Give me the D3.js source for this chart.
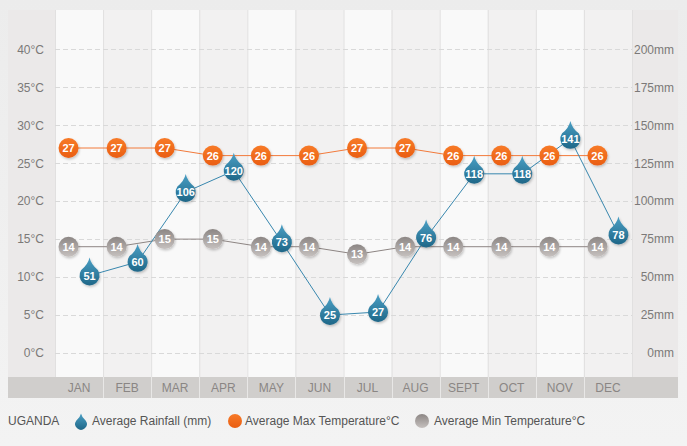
<!DOCTYPE html>
<html>
<head>
<meta charset="utf-8">
<script src="https://cdn.jsdelivr.net/npm/d3@7"></script>
<style>
  body { margin: 0; background: #f0f0f0; }
  svg { display: block; font-family: Arial, "Liberation Sans", sans-serif; }
</style>
</head>
<body>
<script>
// Uganda climate data
var months = ["JAN", "FEB", "MAR", "APR", "MAY", "JUN", "JUL", "AUG", "SEPT", "OCT", "NOV", "DEC"];
var maxTemp = [27, 27, 27, 26, 26, 26, 27, 27, 26, 26, 26, 26];
var minTemp = [14, 14, 15, 15, 14, 14, 13, 14, 14, 14, 14, 14];
var rainfall = [51, 60, 106, 120, 73, 25, 27, 76, 118, 118, 141, 78];
var tempTicks = [0, 5, 10, 15, 20, 25, 30, 35, 40];
var rainTicks = [0, 25, 50, 75, 100, 125, 150, 175, 200];
var country = "UGANDA";

var WIDTH = 687, HEIGHT = 446;
var PLOT = { left: 55, right: 632, top: 10, bottom: 377 };

var svg = d3.select("body").append("svg")
    .attr("width", WIDTH)
    .attr("height", HEIGHT);

var defs = svg.append("defs");

function grad(id, top, bottom) {
    var g = defs.append("linearGradient").attr("id", id)
        .attr("x1", 0).attr("y1", 0).attr("x2", 0).attr("y2", 1);
    g.append("stop").attr("offset", "0%").attr("stop-color", top);
    g.append("stop").attr("offset", "100%").attr("stop-color", bottom);
}
grad("gOrange", "#f77a28", "#ea5e12");
grad("gGray", "#8c8684", "#c6c1bf");
grad("gBlue", "#4a9fc4", "#1f6788");
grad("gBg", "#ececec", "#f3f3f3");

var shadow = defs.append("filter").attr("id", "shadow")
    .attr("x", "-30%").attr("y", "-30%").attr("width", "160%").attr("height", "160%");
shadow.append("feDropShadow").attr("dx", 1).attr("dy", 1.5)
    .attr("stdDeviation", 1).attr("flood-color", "#000").attr("flood-opacity", 0.22);

svg.append("rect").attr("width", WIDTH).attr("height", HEIGHT).attr("fill", "url(#gBg)");

// Scales
var x = d3.scaleBand().domain(months).range([PLOT.left, PLOT.right]);
var yT = d3.scaleLinear().domain([0, 40]).range([353, 49.3]);
var yR = d3.scaleLinear().domain([0, 200]).range([353, 49.3]);

// Side panels
svg.append("rect").attr("x", 8).attr("y", PLOT.top)
    .attr("width", PLOT.left - 8).attr("height", PLOT.bottom - PLOT.top).attr("fill", "#ebe9e9");
svg.append("rect").attr("x", PLOT.right).attr("y", PLOT.top)
    .attr("width", 678 - PLOT.right).attr("height", PLOT.bottom - PLOT.top).attr("fill", "#ebe9e9");

// Month columns
svg.selectAll(".col").data(months).enter().append("rect")
    .attr("class", "col")
    .attr("x", function(d) { return x(d); })
    .attr("y", PLOT.top)
    .attr("width", x.bandwidth())
    .attr("height", PLOT.bottom - PLOT.top)
    .attr("fill", function(d, i) { return i % 2 ? "#f2f1f1" : "#f9f9f9"; });

svg.selectAll(".colline").data(months.concat(["END"])).enter().append("line")
    .attr("x1", function(d, i) { return PLOT.left + i * x.bandwidth() + 0.5; })
    .attr("x2", function(d, i) { return PLOT.left + i * x.bandwidth() + 0.5; })
    .attr("y1", PLOT.top).attr("y2", PLOT.bottom)
    .attr("stroke", "#e1e0e0");

// Grid lines
svg.selectAll(".grid").data(tempTicks).enter().append("line")
    .attr("x1", PLOT.left).attr("x2", PLOT.right)
    .attr("y1", function(d) { return Math.round(yT(d)) + 0.5; })
    .attr("y2", function(d) { return Math.round(yT(d)) + 0.5; })
    .attr("stroke", "#d9d9d9")
    .attr("stroke-dasharray", "5,3");

// Axes
var leftAxis = svg.append("g")
    .attr("transform", "translate(47,0)")
    .call(d3.axisLeft(yT).tickValues(tempTicks).tickSize(0).tickPadding(3)
        .tickFormat(function(d) { return d + "°C"; }));
var rightAxis = svg.append("g")
    .attr("transform", "translate(677,0)")
    .call(d3.axisLeft(yR).tickValues(rainTicks).tickSize(0).tickPadding(3)
        .tickFormat(function(d) { return d + "mm"; }));
[leftAxis, rightAxis].forEach(function(a) {
    a.select(".domain").remove();
    a.selectAll("text").attr("fill", "#7b7978").attr("font-size", "12px")
        .attr("font-family", "Arial, 'Liberation Sans', sans-serif");
});

// Month bar
svg.append("rect").attr("x", 8).attr("y", 377).attr("width", 670).attr("height", 21)
    .attr("fill", "#d0cecc");
svg.selectAll(".msep").data(months.slice(1)).enter().append("line")
    .attr("x1", function(d) { return Math.round(x(d)) + 0.5; })
    .attr("x2", function(d) { return Math.round(x(d)) + 0.5; })
    .attr("y1", 377).attr("y2", 398)
    .attr("stroke", "#e8e7e6");
svg.selectAll(".mlabel").data(months).enter().append("text")
    .attr("x", function(d) { return x(d) + x.bandwidth() / 2; })
    .attr("y", 388)
    .attr("dy", "0.35em")
    .attr("text-anchor", "middle")
    .attr("font-size", "12px")
    .attr("fill", "#8a8684")
    .text(function(d) { return d; });

// Marker positions
var OFF = 10.5;
function cx(i) { return x(months[i]) + x.bandwidth() / 2 - OFF; }
function rx(i) { return x(months[i]) + x.bandwidth() / 2 + OFF; }

var line = d3.line();

svg.append("path")
    .attr("d", line(maxTemp.map(function(v, i) { return [cx(i), yT(v)]; })))
    .attr("fill", "none").attr("stroke", "#f27a3b").attr("stroke-width", 1);
svg.append("path")
    .attr("d", line(minTemp.map(function(v, i) { return [cx(i), yT(v)]; })))
    .attr("fill", "none").attr("stroke", "#8d8583").attr("stroke-width", 1);
svg.append("path")
    .attr("d", line(rainfall.map(function(v, i) { return [rx(i), yR(v)]; })))
    .attr("fill", "none").attr("stroke", "#3887ae").attr("stroke-width", 1);

function addCircles(data, fillId, cls) {
    var g = svg.selectAll("." + cls).data(data).enter().append("g")
        .attr("class", cls)
        .attr("transform", function(d, i) { return "translate(" + cx(i) + "," + yT(d) + ")"; });
    g.append("circle").attr("r", 10).attr("fill", "url(#" + fillId + ")").attr("filter", "url(#shadow)");
    g.append("text").attr("text-anchor", "middle").attr("dy", "0.36em")
        .attr("font-size", "11px").attr("font-weight", "bold").attr("fill", "#fff")
        .text(function(d) { return d; });
}
addCircles(maxTemp, "gOrange", "maxc");
addCircles(minTemp, "gGray", "minc");

var dropPath = "M0,-18 Q1.5,-11 8.3,-5.6 A10,10 0 1,1 -8.3,-5.6 Q-1.5,-11 0,-18 Z";

var drops = svg.selectAll(".drop").data(rainfall).enter().append("g")
    .attr("class", "drop")
    .attr("transform", function(d, i) { return "translate(" + rx(i) + "," + yR(d) + ")"; });
drops.append("path").attr("d", dropPath).attr("fill", "url(#gBlue)").attr("filter", "url(#shadow)");
drops.append("text").attr("text-anchor", "middle").attr("dy", "0.36em")
    .attr("font-size", "11px").attr("font-weight", "bold").attr("fill", "#fff")
    .text(function(d) { return d; });

// Legend
var legY = 421;
var legend = svg.append("g").attr("font-size", "12px").attr("fill", "#555");
legend.append("text").attr("x", 8).attr("y", legY).attr("dy", "0.35em").text(country);
legend.append("path").attr("d", dropPath)
    .attr("transform", "translate(81," + (legY + 3) + ") scale(0.58)")
    .attr("fill", "url(#gBlue)");
legend.append("text").attr("x", 92).attr("y", legY).attr("dy", "0.35em").text("Average Rainfall (mm)");
legend.append("circle").attr("cx", 235).attr("cy", legY).attr("r", 7).attr("fill", "url(#gOrange)");
legend.append("text").attr("x", 245).attr("y", legY).attr("dy", "0.35em").text("Average Max Temperature°C");
legend.append("circle").attr("cx", 422).attr("cy", legY).attr("r", 7).attr("fill", "url(#gGray)");
legend.append("text").attr("x", 434).attr("y", legY).attr("dy", "0.35em").text("Average Min Temperature°C");
</script>
</body>
</html>
